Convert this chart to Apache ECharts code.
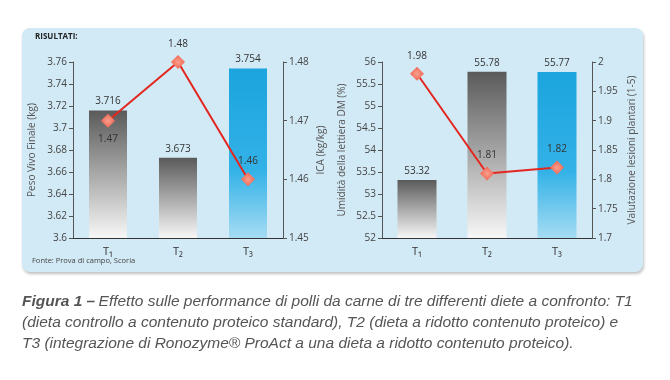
<!DOCTYPE html>
<html><head><meta charset="utf-8">
<script src="https://cdn.jsdelivr.net/npm/echarts@6/dist/echarts.min.js"></script>
<style>html,body{margin:0;padding:0;background:#fff}#c{width:670px;height:380px}</style>
</head><body><div id="c"></div>
<script>
const categories = ['T1', 'T2', 'T3'];
const pesoVivo = [3.716, 3.673, 3.754];
const ica = [1.47, 1.48, 1.46];
const umidita = [53.32, 55.78, 55.77];
const lesioni = [1.98, 1.81, 1.82];
const catLabels = ['T₁', 'T₂', 'T₃'];

const chart = echarts.init(document.getElementById('c'));
const font = 'Open Sans';
const grayGrad = new echarts.graphic.LinearGradient(0, 0, 0, 1, [
  {offset: 0, color: '#5a5a5a'}, {offset: 1, color: '#f7f7f7'}]);
const blueGrad = new echarts.graphic.LinearGradient(0, 0, 0, 1, [
  {offset: 0, color: '#1ba4de'}, {offset: 0.6, color: '#33b2e7'}, {offset: 1, color: '#a6dcf3'}]);
function barData(vals) {
  return vals.map((v, i) => ({value: v, itemStyle: {color: i === 2 ? blueGrad : grayGrad}}));
}
const markerColor = new echarts.graphic.RadialGradient(0.5, 0.5, 0.6, [
  {offset: 0, color: '#f9a08c'}, {offset: 1, color: '#ee5b4a'}]);
const axisTxt = {color: '#444', fontSize: 10, fontFamily: font};
function yAxis(grid, min, max, interval, name, pos, gap) {
  return {
    type: 'value', gridIndex: grid, min: min, max: max, interval: interval, position: pos,
    name: name, nameLocation: 'middle', nameGap: gap, nameRotate: 90,
    nameTextStyle: {color: '#555', fontSize: 10, fontFamily: font},
    axisLine: {show: true, lineStyle: {color: '#555', width: 1}},
    axisTick: {show: true, length: 4, lineStyle: {color: '#555'}},
    splitLine: {show: false},
    axisLabel: Object.assign({margin: 6}, axisTxt)
  };
}
function xAxis(grid) {
  return {
    type: 'category', gridIndex: grid, data: catLabels,
    axisLine: {lineStyle: {color: '#333', width: 1}},
    axisTick: {show: false},
    axisLabel: {color: '#333', fontSize: 11, fontFamily: font, margin: 8}
  };
}
const lineStyleCommon = {color: '#e3261f', width: 2};
chart.setOption({
  animation: false,
  graphic: [
    {type: 'rect', z: -10, shape: {x: 22, y: 28, width: 621, height: 244, r: 8},
     style: {fill: '#d2eaf6', shadowBlur: 3, shadowOffsetX: 1, shadowOffsetY: 2, shadowColor: 'rgba(0,0,0,0.25)'}},
    {type: 'text', left: 35, top: 33, style: {text: 'RISULTATI:', font: 'bold 8px ' + font, fill: '#222'}},
    {type: 'text', left: 32, top: 257, style: {text: 'Fonte: Prova di campo, Scoria', font: '7.5px ' + font, fill: '#444'}},
    {type: 'text', left: 22, top: 291, style: {
      rich: {b: {font: 'italic bold 15.5px "Liberation Sans"', fill: '#555'}, n: {font: 'italic 15.5px "Liberation Sans"', fill: '#555', lineHeight: 21}},
      text: '{b|Figura 1 –} {n|Effetto sulle performance di polli da carne di tre differenti diete a confronto: T1}\n{n|(dieta controllo a contenuto proteico standard), T2 (dieta a ridotto contenuto proteico) e}\n{n|T3 (integrazione di Ronozyme® ProAct a una dieta a ridotto contenuto proteico).}',
      lineHeight: 21
    }}
  ],
  grid: [
    {left: 73, right: 387, top: 62, bottom: 142},
    {left: 382, right: 78, top: 62, bottom: 142}
  ],
  xAxis: [xAxis(0), xAxis(1)],
  yAxis: [
    yAxis(0, 3.6, 3.76, 0.02, 'Peso Vivo Finale (kg)', 'left', 36),
    yAxis(0, 1.45, 1.48, 0.01, 'ICA (kg/kg)', 'right', 33),
    yAxis(1, 52, 56, 0.5, 'Umidità della lettiera DM (%)', 'left', 35),
    yAxis(1, 1.7, 2, 0.05, 'Valutazione lesioni plantari (1-5)', 'right', 35)
  ],
  series: [
    {type: 'bar', xAxisIndex: 0, yAxisIndex: 0, data: barData(pesoVivo), barWidth: 38,
     label: {show: true, position: 'top', distance: 4, color: '#333', fontSize: 10, fontFamily: font}},
    {type: 'line', xAxisIndex: 0, yAxisIndex: 1,
     data: ica.map((v, i) => ({value: v, label: {position: i === 0 ? 'bottom' : 'top'}})),
     lineStyle: lineStyleCommon, symbol: 'diamond', symbolSize: 14,
     itemStyle: {color: markerColor},
     label: {show: true, distance: 6, color: '#333', fontSize: 10, fontFamily: font}},
    {type: 'bar', xAxisIndex: 1, yAxisIndex: 2, data: barData(umidita), barWidth: 39,
     label: {show: true, position: 'top', distance: 4, color: '#333', fontSize: 10, fontFamily: font}},
    {type: 'line', xAxisIndex: 1, yAxisIndex: 3, data: lesioni,
     lineStyle: lineStyleCommon, symbol: 'diamond', symbolSize: 14,
     itemStyle: {color: markerColor},
     label: {show: true, position: 'top', distance: 6, color: '#333', fontSize: 10, fontFamily: font}}
  ]
});
</script></body></html>
